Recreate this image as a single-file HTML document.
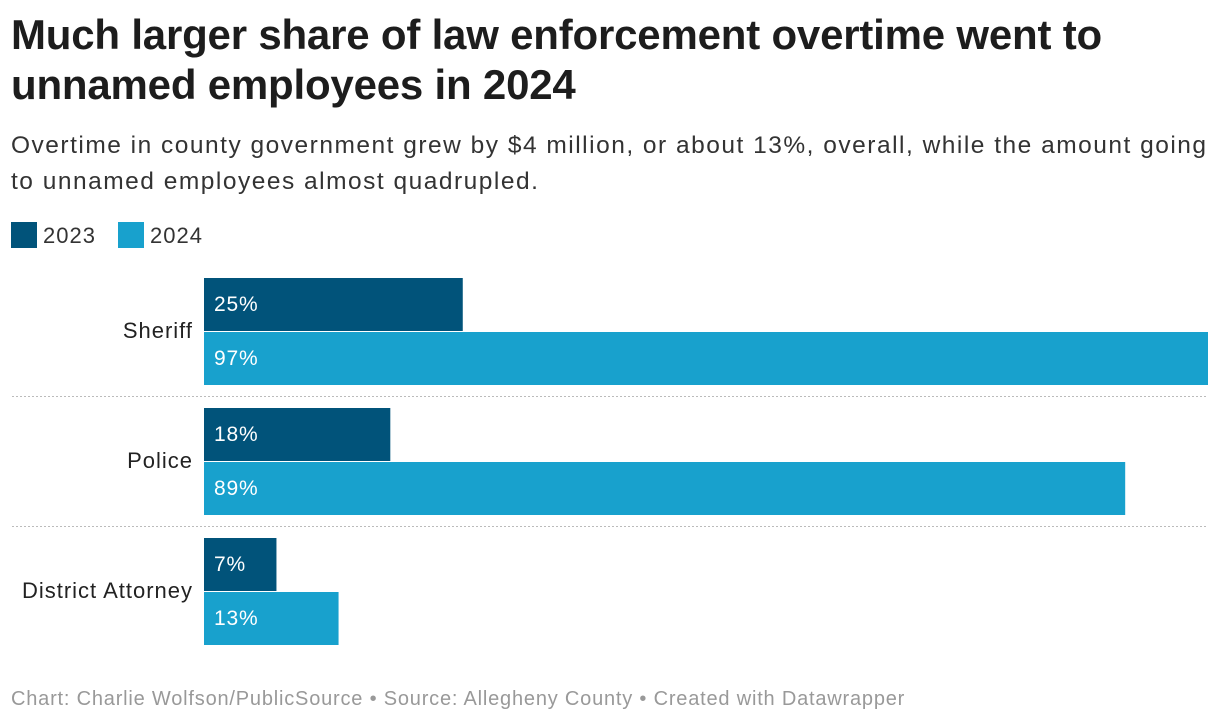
<!DOCTYPE html>
<html><head><meta charset="utf-8">
<style>
body{margin:0;background:#fff;width:1220px;height:722px;overflow:hidden;font-family:"Liberation Sans",Arial,sans-serif;color:#1d1d1d;}
.t{position:absolute;left:11px;top:10px;font-size:42px;font-weight:bold;line-height:50px;width:1210px;white-space:nowrap;letter-spacing:-0.2px}
.s{position:absolute;left:11px;top:128px;font-size:24.5px;line-height:36px;color:#333;width:1210px;white-space:nowrap;letter-spacing:1.5px}
.lg{position:absolute;top:222px;font-size:22px;line-height:28px;color:#333;letter-spacing:1px}
.sw{display:inline-block;width:26px;height:26px;vertical-align:top;margin-right:6px}
.f{position:absolute;left:11px;top:688px;font-size:20px;color:#999;letter-spacing:0.8px;white-space:nowrap}
</style></head><body>
<div class="t">Much larger share of law enforcement overtime went to<br>unnamed employees in 2024</div>
<div class="s">Overtime in county government grew by $4 million, or about 13%, overall, while the amount going<br>to unnamed employees almost quadrupled.</div>
<div class="lg" style="left:11px"><span class="sw" style="background:#01537a"></span>2023</div>
<div class="lg" style="left:118px"><span class="sw" style="background:#18a1cd"></span>2024</div>
<svg id="chart" width="1220" height="722" style="position:absolute;left:0;top:0"></svg>
<div class="f">Chart: Charlie Wolfson/PublicSource • Source: Allegheny County • Created with Datawrapper</div>
<script>
const categories=["Sheriff","Police","District Attorney"];
const values2023=[25,18,7];
const values2024=[97,89,13];
const maxVal=97;
const svg=document.getElementById('chart');
const NS='http://www.w3.org/2000/svg';
const x0=204,xw=1004;
function xs(v){return v/maxVal*xw;}
function mk(t,a){const e=document.createElementNS(NS,t);for(const k in a)e.setAttribute(k,a[k]);svg.appendChild(e);return e;}
categories.forEach((c,i)=>{
  const top=278+i*130;
  const b1=mk('rect',{x:x0,y:top,width:xs(values2023[i]),height:53,fill:'#01537a'});
  
  
  const b2=mk('rect',{x:x0,y:top+54,width:xs(values2024[i]),height:53,fill:'#18a1cd'});
  
  
  [[values2023[i],top],[values2024[i],top+54]].forEach(([v,y],j)=>{
    const t=mk('text',{x:x0+10,y:y+33,fill:'#fff','font-size':21,'letter-spacing':0.8,'font-family':'Liberation Sans, Arial, sans-serif'});
    t.textContent=v+'%';
    
    
  });
  const l=mk('text',{x:193,y:top+60,'text-anchor':'end',fill:'#222','font-size':22,'letter-spacing':1,'font-family':'Liberation Sans, Arial, sans-serif'});
  l.textContent=c;
  
  
  if(i<categories.length-1){
    const s=mk('line',{x1:12,x2:1208,y1:top+118.5,y2:top+118.5,stroke:'#bbb','stroke-dasharray':'2,2','stroke-width':1});
    
    
  }
});
</script>
</body></html>
